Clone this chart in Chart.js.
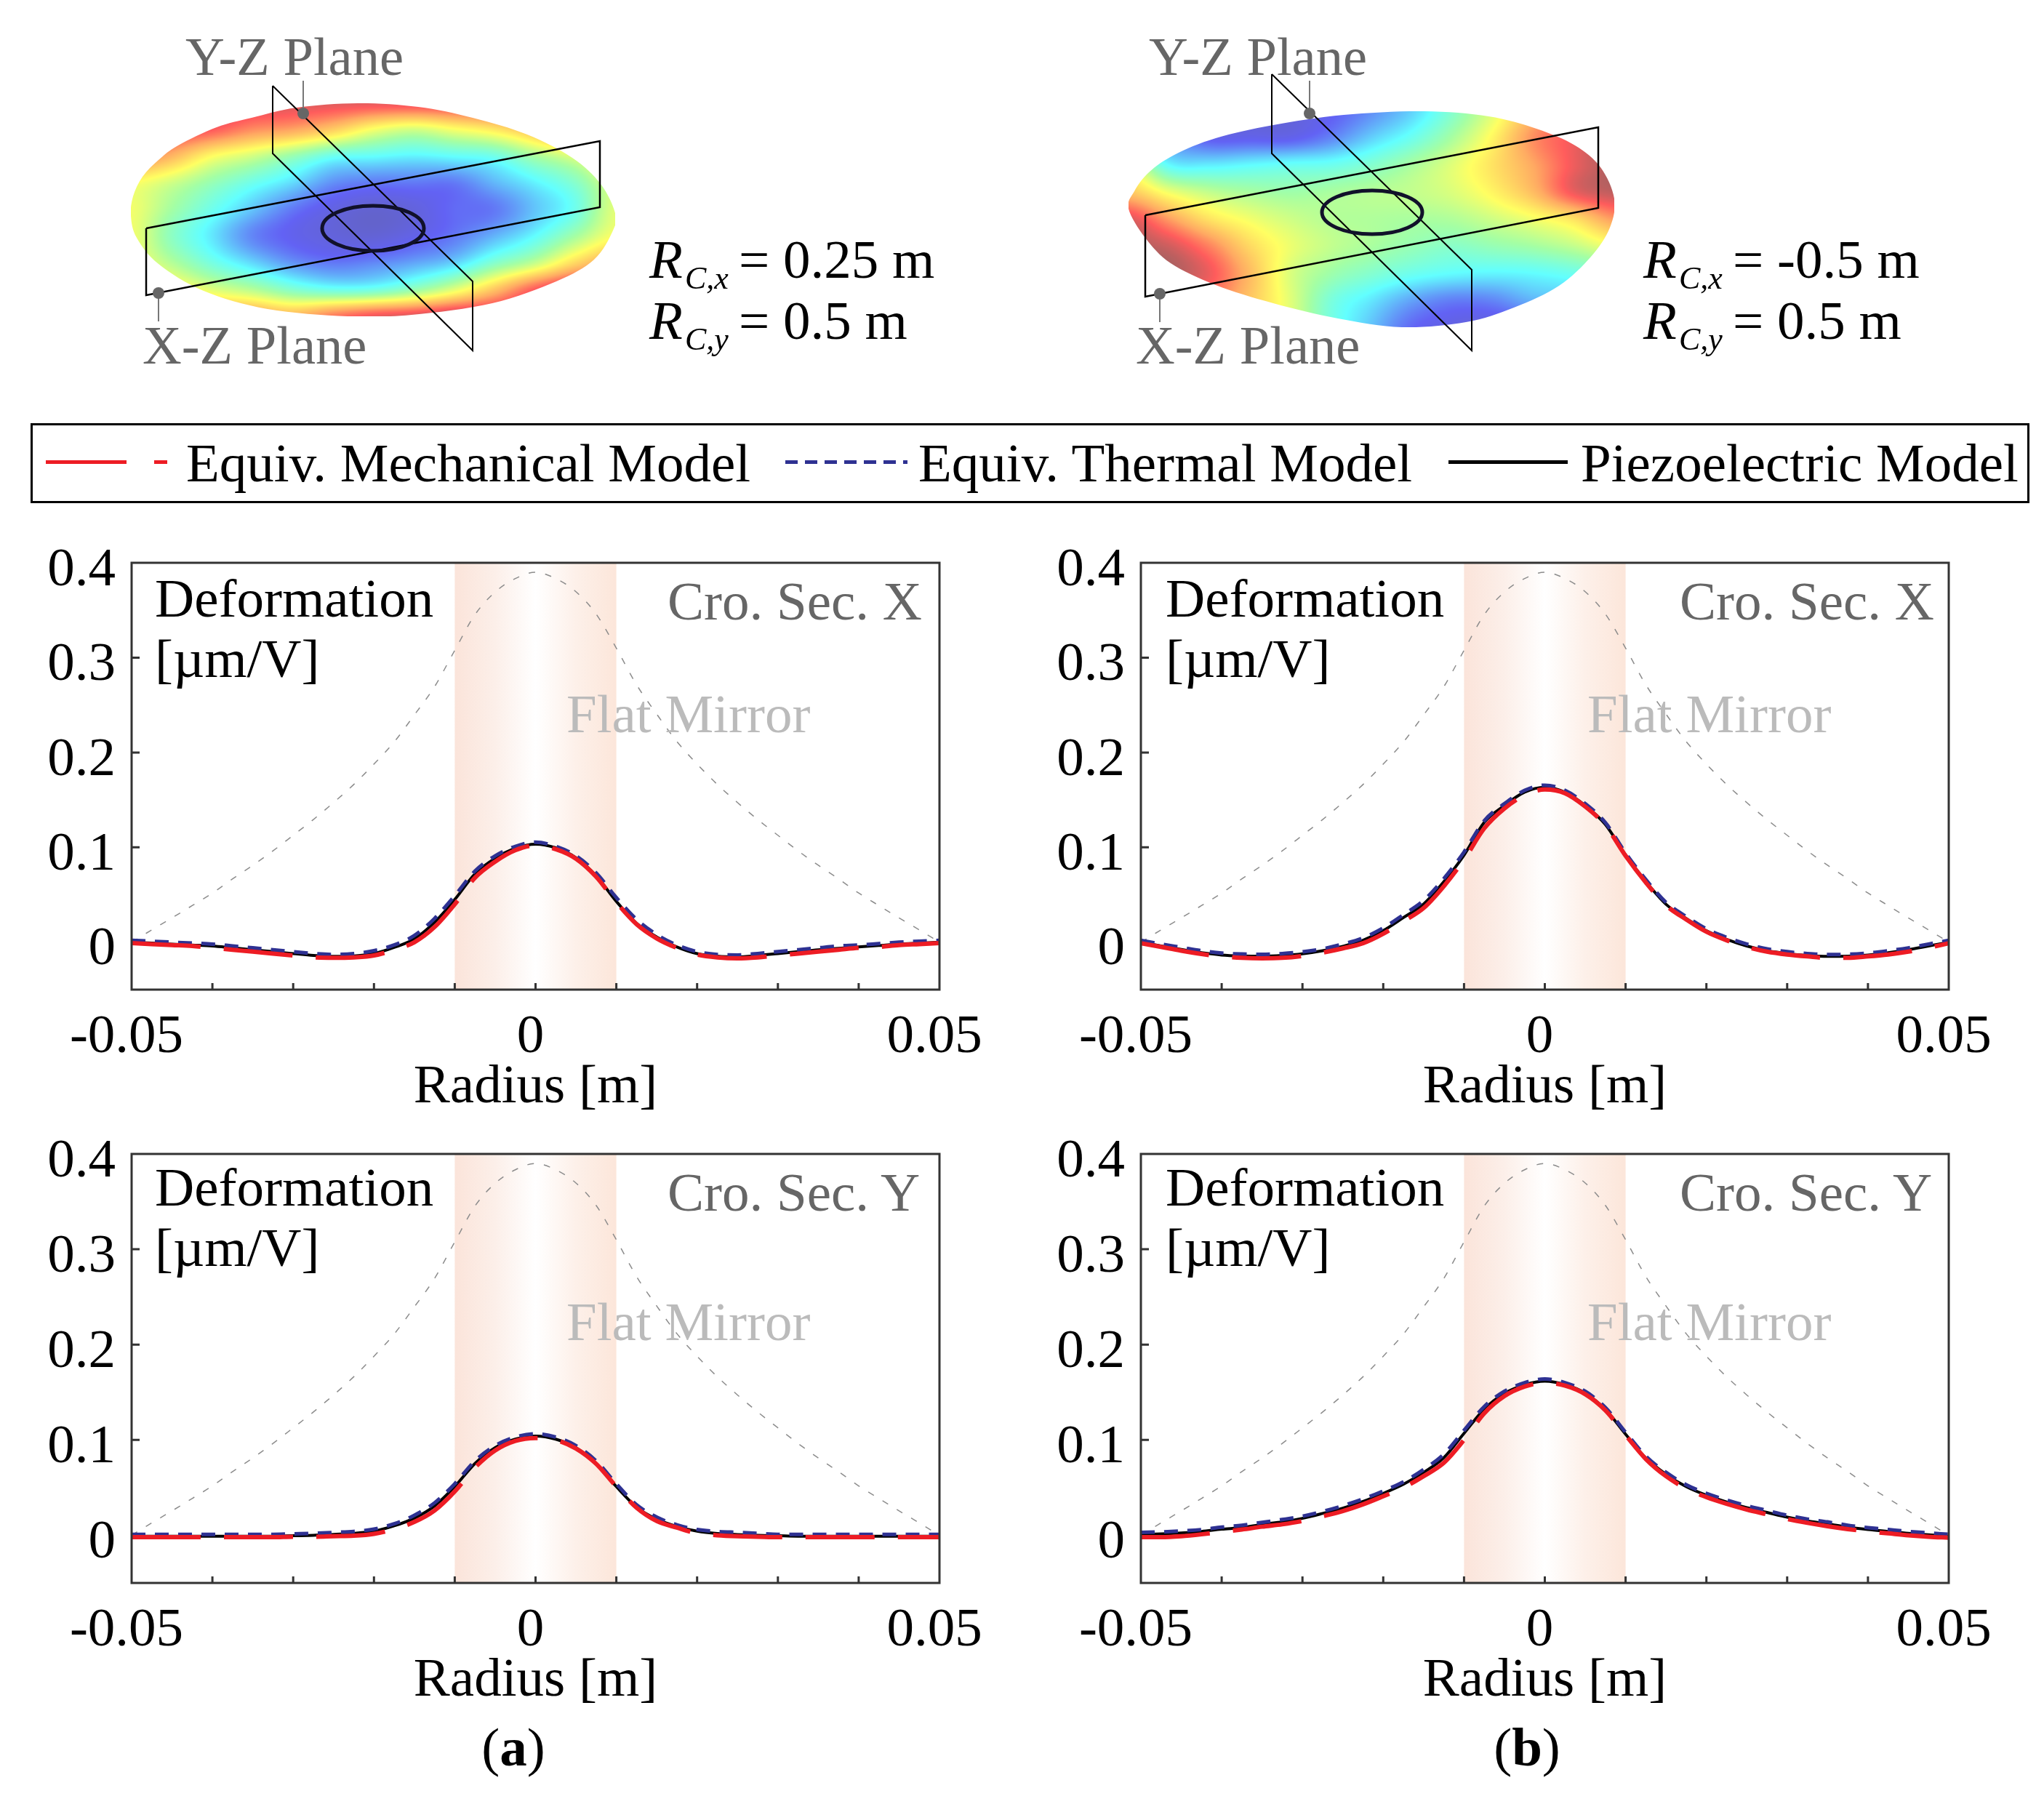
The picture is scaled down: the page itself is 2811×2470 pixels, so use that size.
<!DOCTYPE html>
<html>
<head>
<meta charset="utf-8">
<title>Deformation cross sections</title>
<script src="https://cdn.jsdelivr.net/npm/chart.js@4/dist/chart.umd.js"></script>
<style>
  html, body { margin: 0; padding: 0; background: #fff; }
  #page { position: relative; width: 2811px; height: 2470px; overflow: hidden; font-family: "Liberation Serif", serif; }
  canvas { position: absolute; }
  .txt { position: absolute; white-space: nowrap; line-height: 1; }
</style>
</head>
<body>
<div id="page"></div>
<script>
// DATA
const radius = [-0.05,-0.0475,-0.045,-0.0425,-0.04,-0.0375,-0.035,-0.0325,-0.03,-0.0275,-0.025,-0.0225,-0.02,-0.0175,-0.015,-0.0125,-0.01,-0.0075,-0.005,-0.0025,0,0.0025,0.005,0.0075,0.01,0.0125,0.015,0.0175,0.02,0.0225,0.025,0.0275,0.03,0.0325,0.035,0.0375,0.04,0.0425,0.045,0.0475,0.05];

const flatMirror = [0,.013,.0256,.0386,.0518,.0668,.0811,.0963,.1127,.1293,.1472,.1663,.1878,.2111,.2396,.2694,.3077,.3453,.3692,.3834,.39,.3834,.3695,.346,.310,.2715,.2405,.2115,.1878,.1663,.1472,.1293,.1127,.0963,.0811,.0668,.0518,.0386,.0256,.013,0];

const aX_piezo = [0,-.001,-.002,-.003,-.004,-.006,-.008,-.010,-.012,-.014,-.015,-.0145,-.012,-.0055,.0035,.021,.045,.072,.0885,.099,.1034,.0995,.089,.070,.043,.020,.0055,-.005,-.012,-.0148,-.0155,-.014,-.012,-.010,-.008,-.0065,-.005,-.0035,-.002,-.001,0];
const aX_thermal = [.002,.001,0,-.001,-.002,-.004,-.006,-.008,-.010,-.012,-.013,-.012,-.009,-.003,.007,.025,.049,.075,.091,.101,.1055,.101,.091,.073,.047,.024,.008,-.003,-.010,-.013,-.0135,-.012,-.010,-.008,-.006,-.004,-.003,-.0015,0,.001,.002];
const aX_mech = [-.001,-.002,-.003,-.004,-.006,-.008,-.010,-.012,-.014,-.016,-.0165,-.016,-.014,-.008,0,.016,.040,.068,.085,.097,.102,.098,.088,.069,.042,.019,.004,-.006,-.013,-.016,-.017,-.016,-.014,-.012,-.010,-.008,-.006,-.005,-.003,-.002,-.001];

const bX_piezo = [0,-.004,-.0077,-.011,-.0135,-.0145,-.0148,-.014,-.0122,-.009,-.0043,.002,.0122,.026,.0403,.0638,.0918,.1263,.1441,.1582,.1633,.158,.144,.124,.092,.064,.040,.025,.012,.003,-.004,-.009,-.012,-.014,-.015,-.0148,-.0135,-.011,-.008,-.004,0];
const bX_thermal = [.002,-.002,-.0055,-.009,-.0115,-.0125,-.0128,-.012,-.0102,-.007,-.002,.0045,.015,.029,.044,.067,.095,.128,.146,.160,.1655,.160,.146,.126,.094,.066,.042,.027,.014,.005,-.002,-.007,-.010,-.012,-.013,-.0128,-.0115,-.009,-.006,-.002,.002];
const bX_mech = [-.001,-.005,-.009,-.0125,-.015,-.0165,-.017,-.0165,-.0145,-.011,-.0065,-.001,.009,.022,.036,.059,.087,.120,.141,.155,.161,.157,.143,.123,.091,.063,.039,.024,.011,.002,-.005,-.010,-.013,-.015,-.0165,-.0165,-.015,-.013,-.010,-.006,-.001];

const aY_piezo = [-.001,-.001,-.001,-.001,-.001,-.001,-.001,-.001,-.0005,0,.001,.002,.0043,.0099,.018,.0308,.0511,.0753,.0919,.1008,.1041,.1008,.0919,.0753,.0511,.0295,.0168,.0092,.0043,.0018,.0008,0,-.0005,-.001,-.001,-.001,-.001,-.001,-.001,-.001,-.001];
const aY_thermal = [.001,.001,.001,.001,.001,.001,.001,.001,.0015,.002,.003,.004,.0065,.012,.021,.034,.054,.078,.094,.103,.1065,.103,.094,.078,.054,.032,.019,.011,.006,.004,.003,.002,.001,.001,.001,.001,.001,.001,.001,.001,.001];
const aY_mech = [-.002,-.002,-.002,-.002,-.002,-.002,-.002,-.002,-.0015,-.0015,-.001,-.0005,.0015,.0065,.014,.026,.046,.071,.089,.099,.102,.100,.091,.075,.051,.029,.015,.008,.002,0,-.001,-.0015,-.002,-.002,-.002,-.002,-.002,-.002,-.002,-.002,-.002];

const bY_piezo = [.001,.0015,.0025,.004,.0064,.0081,.0115,.014,.0178,.0229,.0285,.0355,.044,.0535,.066,.0814,.1069,.1323,.1489,.1578,.1616,.158,.149,.132,.106,.081,.064,.051,.042,.035,.029,.024,.019,.015,.012,.0085,.006,.004,.002,.0005,-.001];
const bY_thermal = [.003,.0035,.0045,.006,.0085,.0105,.0135,.0165,.02,.025,.031,.038,.0465,.056,.069,.085,.110,.135,.151,.160,.164,.160,.151,.134,.108,.083,.066,.053,.044,.037,.031,.026,.021,.017,.014,.0105,.008,.006,.004,.0025,.001];
const bY_mech = [-.002,-.002,-.001,.001,.0035,.006,.009,.0115,.015,.02,.0255,.0325,.041,.050,.062,.076,.100,.128,.146,.156,.160,.157,.148,.131,.105,.080,.062,.049,.040,.033,.027,.022,.017,.013,.0095,.0065,.004,.002,0,-.0015,-.0025];

const xTicks = [-0.05,-0.04,-0.03,-0.02,-0.01,0,0.01,0.02,0.03,0.04,0.05];
const xTickLabels = { '-0.05': '-0.05', '0': '0', '0.05': '0.05' };
const yTicks = [0,0.1,0.2,0.3,0.4];
const mirrorBand = [-0.01,0.01];
const seriesNames = ['Equiv. Mechanical Model','Equiv. Thermal Model','Piezoelectric Model'];

// surface heights on a 13x9 grid, 0 = valley, 1 = rim
const surfaceA = [
  [1,1,.98,.96,.95,.94,.93,.93,.94,.96,1,1,1],
  [1,.95,.9,.82,.78,.7,.58,.52,.58,.64,.75,.9,1],
  [.85,.75,.6,.52,.42,.32,.3,.28,.3,.33,.45,.55,.7],
  [.6,.52,.42,.33,.25,.15,.12,.12,.12,.2,.28,.38,.55],
  [.58,.45,.33,.22,.12,.06,.03,.05,.1,.12,.22,.33,.55],
  [.58,.4,.27,.14,.08,.05,.04,.07,.12,.2,.3,.45,.6],
  [.6,.48,.35,.25,.16,.12,.14,.18,.24,.38,.5,.68,.8],
  [.72,.65,.55,.48,.38,.33,.34,.42,.55,.72,.9,1,1],
  [.85,.85,.82,.8,.75,.85,.92,.95,1,1,1,1,1]
];
const surfaceB = [
  [.1,.05,.05,.05,.05,.08,.15,.24,.38,.55,.75,.9,1],
  [.2,.15,.08,.08,.08,.14,.24,.33,.46,.62,.82,.92,1],
  [.55,.3,.28,.3,.32,.33,.38,.46,.55,.66,.78,.92,1],
  [.72,.58,.5,.46,.44,.46,.48,.5,.54,.62,.74,.92,.98],
  [.95,.8,.66,.58,.52,.48,.47,.46,.47,.52,.58,.66,.8],
  [1,.96,.84,.68,.57,.5,.46,.42,.39,.42,.45,.5,.58],
  [1,1,.92,.74,.54,.44,.38,.33,.3,.29,.3,.33,.38],
  [.85,.85,.85,.72,.55,.36,.27,.18,.13,.14,.2,.22,.25],
  [.8,.8,.8,.7,.55,.35,.22,.1,.06,.05,.08,.12,.15]
];

// schematic outlines in the coordinates of the top drawing
const outlineA = [[180,297],[183,270],[196,243],[218,220],[245,200],[298,175],[346,162],[408,148],[492,142],[575,147],[650,162],[725,185],[787,217],[826,253],[846,293],[843,317],[817,357],[765,387],[677,417],[566,433],[478,435],[368,425],[280,400],[218,363],[188,327]];
const outlineB = [[1552,287],[1560,263],[1580,237],[1615,213],[1672,190],[1751,172],[1848,158],[1958,153],[2047,160],[2113,177],[2166,200],[2201,230],[2220,273],[2214,313],[2188,353],[2144,393],[2082,423],[2016,443],[1928,450],[1840,438],[1751,417],[1672,392],[1610,362],[1575,327]];
const surfaceBoxA = [180,846,142,435];
const surfaceBoxB = [1552,2220,153,450];
const ringA = [513,314,70,31];
const ringB = [1887,292,69,30];

const xzPlaneA = [[201,314],[825,194],[825,285],[201,406],[201,314]];
const yzPlaneA = [[375,118],[650,387],[650,482],[375,211],[375,118]];
const xzPlaneB = [[1575,296],[2198,175],[2198,286],[1575,408],[1575,296]];
const yzPlaneB = [[1749,102],[2024,371],[2024,482],[1749,211],[1749,102]];
const leaders = [
  [[417,111],[417,156]], [[218,403],[218,442]],
  [[1801,111],[1801,156]], [[1595,404],[1595,443]]
];

// STYLE
const FONT = '"Liberation Serif", serif';
const colormap = [
  [0,   100, 100, 190],
  [.09, 98,  98, 244],
  [.3,  98, 255, 255],
  [.45, 164, 255, 164],
  [.6,  255, 255, 98],
  [.78, 255, 170, 98],
  [.9,  255, 92,  92],
  [1,   176, 96,  96]
];

const page = document.getElementById('page');

const addText = (html, x, baseline, size, color, align) => {
    const el = document.createElement('div');
    el.className = 'txt';
    el.innerHTML = html;
    el.style.fontSize = size + 'px';
    el.style.color = color || '#000';
    el.style.top = (baseline - 0.8375 * size) + 'px';
    el.style.left = x + 'px';
    if (align === 'center') el.style.transform = 'translateX(-50%)';
    page.appendChild(el);
};

const addCanvas = (left, top, width, height) => {
    const c = document.createElement('canvas');
    c.width = width;
    c.height = height;
    c.style.left = left + 'px';
    c.style.top = top + 'px';
    c.style.width = width + 'px';
    c.style.height = height + 'px';
    page.appendChild(c);
    return c;
};

const heightColor = (v) => {
    v = Math.min(1, Math.max(0, v));
    for (let i = 1; i < colormap.length; i++) {
        if (v <= colormap[i][0]) {
            const a = colormap[i - 1], b = colormap[i];
            const t = (v - a[0]) / (b[0] - a[0]);
            return [a[1] + (b[1] - a[1]) * t, a[2] + (b[2] - a[2]) * t, a[3] + (b[3] - a[3]) * t];
        }
    }
    return colormap[colormap.length - 1].slice(1);
};

// smooth shading between the grid nodes, like shading interp
const cubic = (p0, p1, p2, p3, t) =>
    p1 + 0.5 * t * (p2 - p0 + t * (2 * p0 - 5 * p1 + 4 * p2 - p3 + t * (3 * (p1 - p2) + p3 - p0)));

const sampleGrid = (grid, u, v) => {
    const rows = grid.length, cols = grid[0].length;
    const fx = u * (cols - 1), fy = v * (rows - 1);
    const ix = Math.min(cols - 2, Math.floor(fx)), iy = Math.min(rows - 2, Math.floor(fy));
    const at = (r, c) => grid[Math.max(0, Math.min(rows - 1, r))][Math.max(0, Math.min(cols - 1, c))];
    const row = [];
    for (let r = -1; r <= 2; r++) {
        row.push(cubic(at(iy + r, ix - 1), at(iy + r, ix), at(iy + r, ix + 1), at(iy + r, ix + 2), fx - ix));
    }
    return cubic(row[0], row[1], row[2], row[3], fy - iy);
};

const drawSurface = (chart, grid, box, outline) => {
    const { ctx, scales } = chart;
    const x0 = scales.x.getPixelForValue(box[0]), x1 = scales.x.getPixelForValue(box[1]);
    const y0 = scales.y.getPixelForValue(box[2]), y1 = scales.y.getPixelForValue(box[3]);
    const w = Math.round(x1 - x0), h = Math.round(y1 - y0);
    const off = document.createElement('canvas');
    off.width = w;
    off.height = h;
    const octx = off.getContext('2d');
    const img = octx.createImageData(w, h);
    for (let j = 0; j < h; j++) {
        for (let i = 0; i < w; i++) {
            const c = heightColor(sampleGrid(grid, i / (w - 1), j / (h - 1)));
            const k = (j * w + i) * 4;
            img.data[k] = c[0];
            img.data[k + 1] = c[1];
            img.data[k + 2] = c[2];
            img.data[k + 3] = 255;
        }
    }
    octx.putImageData(img, 0, 0);

    // closed smooth curve through the outline points
    const pts = outline.map(p => [scales.x.getPixelForValue(p[0]), scales.y.getPixelForValue(p[1])]);
    const n = pts.length;
    ctx.save();
    ctx.beginPath();
    ctx.moveTo(pts[0][0], pts[0][1]);
    for (let i = 0; i < n; i++) {
        const p0 = pts[(i + n - 1) % n], p1 = pts[i], p2 = pts[(i + 1) % n], p3 = pts[(i + 2) % n];
        ctx.bezierCurveTo(
            p1[0] + (p2[0] - p0[0]) / 6, p1[1] + (p2[1] - p0[1]) / 6,
            p2[0] - (p3[0] - p1[0]) / 6, p2[1] - (p3[1] - p1[1]) / 6,
            p2[0], p2[1]
        );
    }
    ctx.closePath();
    ctx.clip();
    ctx.drawImage(off, x0, y0);
    ctx.restore();
};

const drawRing = (chart, ring) => {
    const { ctx, scales } = chart;
    ctx.save();
    ctx.strokeStyle = '#11112a';
    ctx.lineWidth = 5;
    ctx.beginPath();
    ctx.ellipse(scales.x.getPixelForValue(ring[0]), scales.y.getPixelForValue(ring[1]), ring[2], ring[3], 0, 0, Math.PI * 2);
    ctx.stroke();
    ctx.restore();
};

const surfacePlugin = {
    id: 'surfaces',
    beforeDatasetsDraw(chart) {
        drawSurface(chart, surfaceA, surfaceBoxA, outlineA);
        drawSurface(chart, surfaceB, surfaceBoxB, outlineB);
    },
    afterDatasetsDraw(chart) {
        drawRing(chart, ringA);
        drawRing(chart, ringB);
    }
};

// peach band behind the curves, frame and inward ticks on top of them
const panelPlugin = {
    id: 'panelDecor',
    beforeDatasetsDraw(chart) {
        const { ctx, chartArea, scales } = chart;
        const x0 = scales.x.getPixelForValue(mirrorBand[0]);
        const x1 = scales.x.getPixelForValue(mirrorBand[1]);
        const g = ctx.createLinearGradient(x0, 0, x1, 0);
        g.addColorStop(0, '#fbe4da');
        g.addColorStop(0.25, '#fcefe9');
        g.addColorStop(0.5, '#ffffff');
        g.addColorStop(0.75, '#fdf0e9');
        g.addColorStop(1, '#fce6da');
        ctx.save();
        ctx.fillStyle = g;
        ctx.fillRect(x0, chartArea.top, x1 - x0, chartArea.bottom - chartArea.top);
        ctx.restore();
    },
    afterDatasetsDraw(chart) {
        const { ctx, chartArea: a, scales } = chart;
        ctx.save();
        ctx.strokeStyle = '#333';
        ctx.lineWidth = 3;
        ctx.strokeRect(a.left, a.top, a.right - a.left, a.bottom - a.top);
        ctx.beginPath();
        xTicks.slice(1, -1).forEach(v => {
            const px = scales.x.getPixelForValue(v);
            ctx.moveTo(px, a.bottom);
            ctx.lineTo(px, a.bottom - 9);
        });
        yTicks.slice(1, -1).forEach(v => {
            const py = scales.y.getPixelForValue(v);
            ctx.moveTo(a.left, py);
            ctx.lineTo(a.left + 11, py);
        });
        ctx.stroke();
        ctx.restore();
    }
};

const pairs = (ys) => ys.map((y, i) => ({ x: radius[i], y }));

const makePanel = (left, top, width, height, piezo, thermal, mech) => {
    const padL = 170, padT = 100, padR = 90, xBox = 180;
    const canvas = addCanvas(left - padL, top - padT, padL + width + padR, padT + height + xBox);
    return new Chart(canvas, {
        type: 'line',
        data: {
            datasets: [
                { label: seriesNames[0], data: pairs(mech), borderColor: '#ed1c24', borderWidth: 6, borderDash: [95, 32], order: 1 },
                { label: seriesNames[1], data: pairs(thermal), borderColor: '#2e3192', borderWidth: 5, borderDash: [19, 13], order: 2 },
                { label: seriesNames[2], data: pairs(piezo), borderColor: '#000', borderWidth: 4, order: 3 },
                { label: 'Flat Mirror', data: pairs(flatMirror), borderColor: '#8c8c8c', borderWidth: 1.5, borderDash: [9, 14], order: 4 }
            ]
        },
        options: {
            responsive: false,
            animation: false,
            devicePixelRatio: 1,
            layout: { autoPadding: false, padding: { left: 0, top: padT, right: padR, bottom: 0 } },
            elements: { point: { radius: 0 }, line: { cubicInterpolationMode: 'monotone' } },
            plugins: { legend: { display: false }, tooltip: { enabled: false } },
            scales: {
                x: {
                    type: 'linear',
                    min: -0.05,
                    max: 0.05,
                    afterBuildTicks: (axis) => { axis.ticks = xTicks.map(value => ({ value })); },
                    afterFit: (axis) => { axis.height = xBox; },
                    grid: { display: false, drawTicks: false },
                    border: { display: false },
                    ticks: {
                        autoSkip: false,
                        maxRotation: 0,
                        padding: 21,
                        labelOffset: -7,
                        color: '#000',
                        font: { family: FONT, size: 75 },
                        callback: (v) => xTickLabels[String(v)] || ''
                    },
                    title: {
                        display: true,
                        text: 'Radius [m]',
                        color: '#000',
                        font: { family: FONT, size: 75 },
                        padding: { top: 0, bottom: 0 }
                    }
                },
                y: {
                    type: 'linear',
                    min: -0.05,
                    max: 0.4,
                    afterBuildTicks: (axis) => { axis.ticks = yTicks.map(value => ({ value })); },
                    afterFit: (axis) => { axis.width = padL; },
                    grid: { display: false, drawTicks: false },
                    border: { display: false },
                    ticks: {
                        padding: 22,
                        labelOffset: 11,
                        color: '#000',
                        font: { family: FONT, size: 75 },
                        callback: (v) => (v === 0 ? '0' : v.toFixed(1))
                    }
                }
            }
        },
        plugins: [panelPlugin]
    });
};

// PANELS
makePanel(181, 774, 1111, 587, aX_piezo, aX_thermal, aX_mech);
makePanel(1569, 774, 1111, 587, bX_piezo, bX_thermal, bX_mech);
makePanel(181, 1587, 1111, 590, aY_piezo, aY_thermal, aY_mech);
makePanel(1569, 1587, 1111, 590, bY_piezo, bY_thermal, bY_mech);

// TOP SCHEMATIC
const lineSet = (points, color, width) => ({
    data: points.map(p => ({ x: p[0], y: p[1] })),
    borderColor: color,
    borderWidth: width,
    pointRadius: 0,
    showLine: true,
    tension: 0
});
const dotSet = (point) => ({
    data: [{ x: point[0], y: point[1] }],
    backgroundColor: '#666',
    borderWidth: 0,
    pointRadius: 8,
    showLine: false
});

new Chart(addCanvas(0, 0, 2811, 560), {
    type: 'scatter',
    data: {
        datasets: [
            dotSet(leaders[0][1]), dotSet(leaders[1][0]), dotSet(leaders[2][1]), dotSet(leaders[3][0]),
            ...leaders.map(l => lineSet(l, '#777', 2)),
            lineSet(xzPlaneA, '#000', 2.5), lineSet(yzPlaneA, '#000', 2),
            lineSet(xzPlaneB, '#000', 2.5), lineSet(yzPlaneB, '#000', 2)
        ]
    },
    options: {
        responsive: false,
        animation: false,
        devicePixelRatio: 1,
        layout: { autoPadding: false, padding: 0 },
        plugins: { legend: { display: false }, tooltip: { enabled: false } },
        scales: {
            x: { type: 'linear', min: 0, max: 2811, display: false },
            y: { type: 'linear', min: 0, max: 560, reverse: true, display: false }
        }
    },
    plugins: [surfacePlugin]
});

// TEXT
const GRAY = '#666', LIGHT = '#bbb';
addText('Y-Z Plane', 255, 103, 74.5, GRAY);
addText('X-Z Plane', 196, 500, 74.5, GRAY);
addText('Y-Z Plane', 1580, 103, 74.5, GRAY);
addText('X-Z Plane', 1562, 500, 74.5, GRAY);

const curvature = (x, baseline, axis, value) => {
    addText('<i>R</i>', x, baseline, 75);
    addText('<i>C,' + axis + '</i>', x + 49, baseline + 16, 44);
    addText('= ' + value + ' m', x + 123, baseline, 75);
};
curvature(893, 382, 'x', '0.25');
curvature(893, 466, 'y', '0.5');
curvature(2260, 382, 'x', '-0.5');
curvature(2260, 466, 'y', '0.5');

[[213, 848, 931, 918, 852, 779, 1007, 'X'],
 [1603, 848, 931, 2310, 852, 2183, 1007, 'X'],
 [213, 1658, 1741, 918, 1665, 779, 1843, 'Y'],
 [1603, 1658, 1741, 2310, 1665, 2183, 1843, 'Y']].forEach(t => {
    addText('Deformation', t[0], t[1], 75);
    addText('[µm/V]', t[0], t[2], 75);
    addText('Cro. Sec. ' + t[7], t[3], t[4], 75, GRAY);
    addText('Flat Mirror', t[5], t[6], 75, LIGHT);
});

addText('(<b>a</b>)', 706, 2428, 75, '#000', 'center');
addText('(<b>b</b>)', 2100, 2428, 75, '#000', 'center');

// LEGEND
const box = document.createElement('div');
box.style.cssText = 'position:absolute;left:42px;top:582px;width:2743px;height:104px;border:3px solid #000;';
page.appendChild(box);
const legendLine = (x, w, css) => {
    const el = document.createElement('div');
    el.style.cssText = 'position:absolute;left:' + x + 'px;top:633px;width:' + w + 'px;height:5px;' + css;
    page.appendChild(el);
};
legendLine(63, 111, 'background:#ed1c24;');
legendLine(212, 18, 'background:#ed1c24;');
legendLine(1080, 168, 'background:repeating-linear-gradient(90deg,#2e3192 0,#2e3192 17px,transparent 17px,transparent 27px);');
legendLine(1992, 164, 'background:#000;');
addText(seriesNames[0], 256, 662, 75);
addText(seriesNames[1], 1263, 662, 75);
addText(seriesNames[2], 2174, 662, 75);
</script>
</body>
</html>
